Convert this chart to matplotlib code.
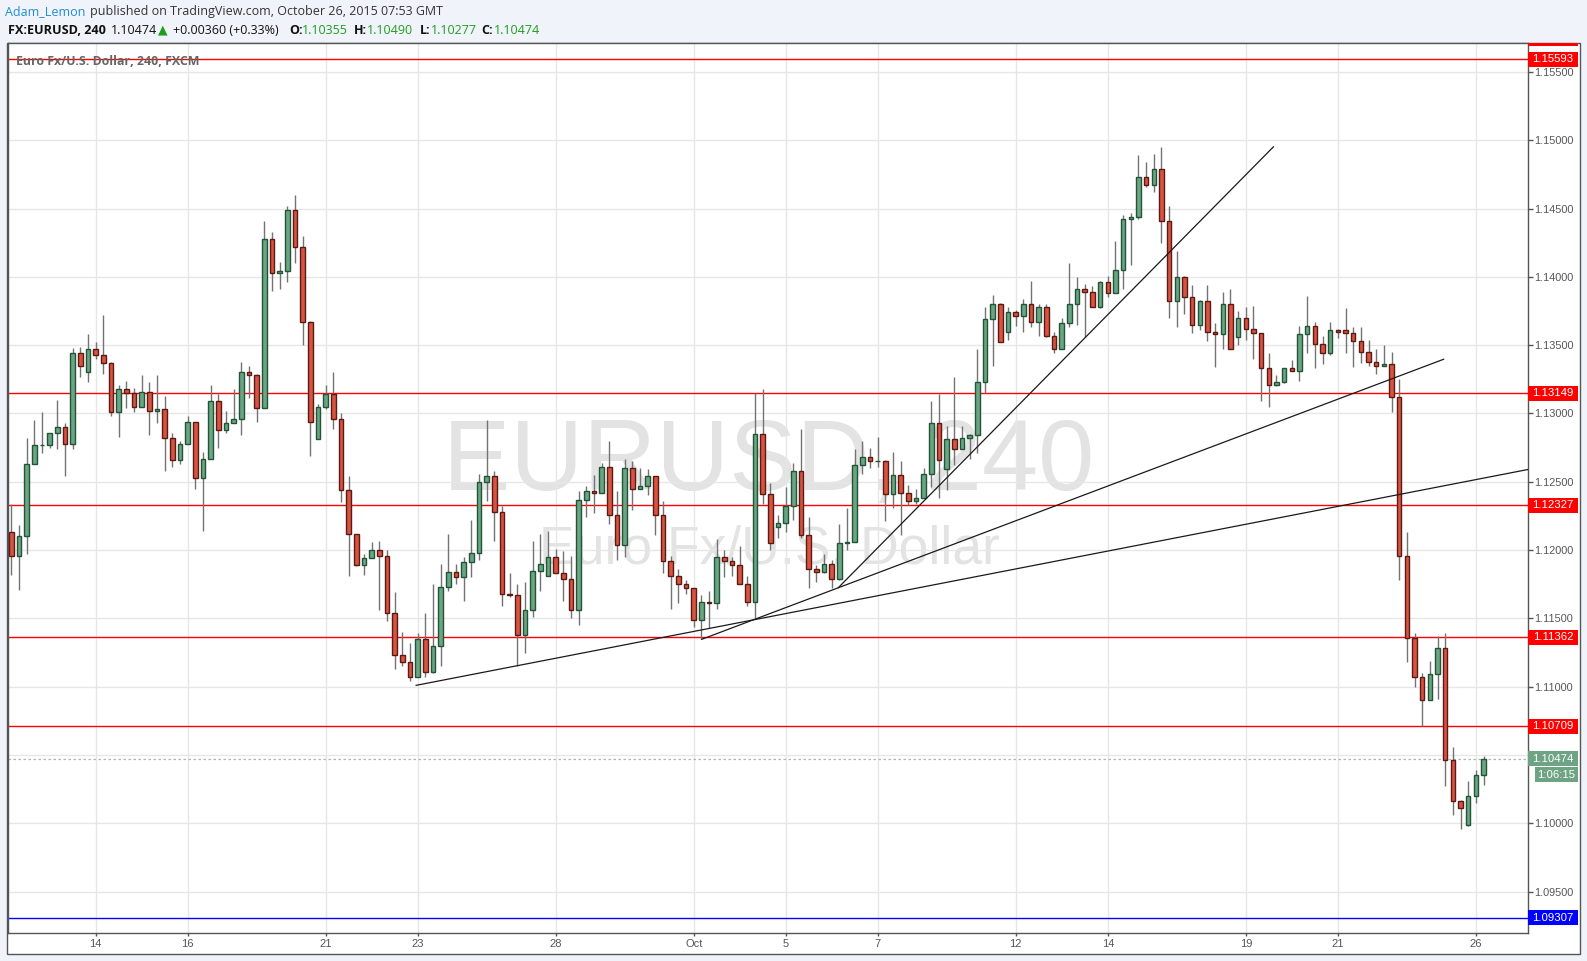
import numpy as np
import matplotlib
matplotlib.use("Agg")
import matplotlib.pyplot as plt
import matplotlib.transforms as mtrans
from matplotlib.patches import Rectangle

plt.rcParams['font.family'] = ['Liberation Sans', 'DejaVu Sans']

# EURUSD 240 candles (index 0 = first candle on the left)
opens = [1.1213, 1.1196, 1.1210, 1.1263, 1.1277, 1.1277, 1.1286, 1.1290, 1.1278, 1.1344,
         1.1330, 1.1347, 1.1343, 1.1337, 1.1301, 1.1318, 1.1315, 1.1305, 1.1316, 1.1302,
         1.1303, 1.1282, 1.1266, 1.1278, 1.1294, 1.1253, 1.1267, 1.1309, 1.1288, 1.1293,
         1.1296, 1.1330, 1.1328, 1.1304, 1.1428, 1.1403, 1.1404, 1.1449, 1.1422, 1.1367,
         1.1281, 1.1305, 1.1314, 1.1296, 1.1244, 1.1212, 1.1189, 1.1194, 1.1200, 1.1196,
         1.1154, 1.1123, 1.1118, 1.1107, 1.1135, 1.1111, 1.1130, 1.1173, 1.1184, 1.1180,
         1.1191, 1.1198, 1.1250, 1.1254, 1.1228, 1.1168, 1.1167, 1.1138, 1.1156, 1.1185,
         1.1181, 1.1195, 1.1183, 1.1179, 1.1156, 1.1237, 1.1243, 1.1242, 1.1261, 1.1226,
         1.1204, 1.1260, 1.1245, 1.1247, 1.1254, 1.1226, 1.1192, 1.1181, 1.1175, 1.1172,
         1.1149, 1.1162, 1.1161, 1.1195, 1.1192, 1.1189, 1.1175, 1.1162, 1.1285, 1.1241,
         1.1217, 1.1220, 1.1232, 1.1258, 1.1211, 1.1186, 1.1184, 1.1190, 1.1179, 1.1205,
         1.1206, 1.1262, 1.1268, 1.1265, 1.1265, 1.1241, 1.1255, 1.1242, 1.1236, 1.1238,
         1.1256, 1.1293, 1.1259, 1.1281, 1.1274, 1.1282, 1.1284, 1.1323, 1.1369, 1.1380,
         1.1360, 1.1374, 1.1371, 1.1380, 1.1367, 1.1378, 1.1357, 1.1347, 1.1366, 1.1380,
         1.1391, 1.1389, 1.1378, 1.1396, 1.1388, 1.1405, 1.1442, 1.1444, 1.1473, 1.1467,
         1.1479, 1.1441, 1.1382, 1.1400, 1.1385, 1.1365, 1.1382, 1.1360, 1.1358, 1.1380,
         1.1356, 1.1370, 1.1362, 1.1359, 1.1333, 1.1321, 1.1323, 1.1333, 1.1331, 1.1358,
         1.1364, 1.1351, 1.1344, 1.1361, 1.1361, 1.1359, 1.1353, 1.1345, 1.1338, 1.1335,
         1.1336, 1.1312, 1.1196, 1.1136, 1.1107, 1.1090, 1.1109, 1.1128, 1.1046, 1.1016,
         1.0999, 1.1020, 1.1035]
highs = [1.1234, 1.1218, 1.1282, 1.1295, 1.1301, 1.1286, 1.1310, 1.1293, 1.1348, 1.1349,
         1.1358, 1.1352, 1.1372, 1.1338, 1.1321, 1.1324, 1.1319, 1.1328, 1.1323, 1.1328,
         1.1313, 1.1286, 1.1280, 1.1298, 1.1294, 1.1272, 1.1321, 1.1314, 1.1302, 1.1318,
         1.1338, 1.1335, 1.1329, 1.1441, 1.1433, 1.1411, 1.1452, 1.1460, 1.1430, 1.1368,
         1.1307, 1.1321, 1.1330, 1.1300, 1.1254, 1.1212, 1.1197, 1.1206, 1.1207, 1.1200,
         1.1169, 1.1140, 1.1132, 1.1139, 1.1154, 1.1175, 1.1190, 1.1212, 1.1190, 1.1195,
         1.1222, 1.1256, 1.1295, 1.1258, 1.1232, 1.1183, 1.1175, 1.1177, 1.1207, 1.1212,
         1.1214, 1.1201, 1.1199, 1.1196, 1.1243, 1.1247, 1.1255, 1.1264, 1.1280, 1.1243,
         1.1267, 1.1265, 1.1260, 1.1259, 1.1254, 1.1236, 1.1196, 1.1186, 1.1178, 1.1172,
         1.1167, 1.1170, 1.1208, 1.1200, 1.1195, 1.1203, 1.1181, 1.1315, 1.1318, 1.1249,
         1.1226, 1.1246, 1.1264, 1.1289, 1.1224, 1.1189, 1.1197, 1.1193, 1.1219, 1.1231,
         1.1274, 1.1280, 1.1275, 1.1283, 1.1266, 1.1272, 1.1265, 1.1248, 1.1245, 1.1260,
         1.1309, 1.1314, 1.1291, 1.1327, 1.1291, 1.1285, 1.1347, 1.1378, 1.1387, 1.1381,
         1.1378, 1.1376, 1.1384, 1.1397, 1.1380, 1.1380, 1.1360, 1.1370, 1.1410, 1.1400,
         1.1395, 1.1393, 1.1397, 1.1401, 1.1426, 1.1445, 1.1447, 1.1489, 1.1484, 1.1490,
         1.1495, 1.1452, 1.1419, 1.1401, 1.1394, 1.1383, 1.1394, 1.1366, 1.1389, 1.1391,
         1.1375, 1.1378, 1.1379, 1.1359, 1.1344, 1.1328, 1.1333, 1.1339, 1.1364, 1.1386,
         1.1367, 1.1357, 1.1367, 1.1362, 1.1377, 1.1363, 1.1363, 1.1354, 1.1347, 1.1350,
         1.1345, 1.1325, 1.1213, 1.1139, 1.1110, 1.1119, 1.1137, 1.1139, 1.1056, 1.1017,
         1.1031, 1.1039, 1.1049]
lows = [1.1182, 1.1171, 1.1197, 1.1263, 1.1271, 1.1275, 1.1274, 1.1254, 1.1274, 1.1327,
        1.1323, 1.1340, 1.1329, 1.1298, 1.1283, 1.1304, 1.1301, 1.1305, 1.1284, 1.1293,
        1.1258, 1.1261, 1.1263, 1.1278, 1.1245, 1.1214, 1.1267, 1.1275, 1.1286, 1.1293,
        1.1284, 1.1311, 1.1294, 1.1304, 1.1390, 1.1391, 1.1396, 1.1410, 1.1350, 1.1269,
        1.1281, 1.1303, 1.1289, 1.1235, 1.1181, 1.1188, 1.1182, 1.1194, 1.1156, 1.1148,
        1.1113, 1.1115, 1.1104, 1.1107, 1.1107, 1.1110, 1.1115, 1.1170, 1.1175, 1.1163,
        1.1180, 1.1193, 1.1236, 1.1207, 1.1159, 1.1166, 1.1115, 1.1125, 1.1151, 1.1170,
        1.1181, 1.1183, 1.1163, 1.1150, 1.1145, 1.1224, 1.1227, 1.1242, 1.1219, 1.1193,
        1.1195, 1.1229, 1.1245, 1.1240, 1.1211, 1.1183, 1.1157, 1.1161, 1.1168, 1.1144,
        1.1135, 1.1143, 1.1157, 1.1180, 1.1181, 1.1175, 1.1159, 1.1150, 1.1234, 1.1200,
        1.1209, 1.1213, 1.1222, 1.1209, 1.1172, 1.1177, 1.1183, 1.1172, 1.1178, 1.1200,
        1.1206, 1.1256, 1.1260, 1.1261, 1.1221, 1.1231, 1.1211, 1.1233, 1.1234, 1.1238,
        1.1246, 1.1238, 1.1244, 1.1262, 1.1274, 1.1267, 1.1271, 1.1315, 1.1335, 1.1352,
        1.1354, 1.1364, 1.1360, 1.1363, 1.1357, 1.1356, 1.1344, 1.1347, 1.1363, 1.1365,
        1.1356, 1.1378, 1.1377, 1.1385, 1.1388, 1.1391, 1.1409, 1.1442, 1.1466, 1.1462,
        1.1425, 1.1370, 1.1363, 1.1373, 1.1359, 1.1361, 1.1353, 1.1334, 1.1347, 1.1347,
        1.1350, 1.1354, 1.1340, 1.1309, 1.1305, 1.1320, 1.1322, 1.1331, 1.1324, 1.1344,
        1.1333, 1.1336, 1.1343, 1.1355, 1.1344, 1.1334, 1.1337, 1.1335, 1.1329, 1.1335,
        1.1301, 1.1178, 1.1118, 1.1100, 1.1071, 1.1090, 1.1091, 1.1027, 1.1006, 1.0996,
        1.0998, 1.1015, 1.1028]
closes = [1.1196, 1.1210, 1.1263, 1.1277, 1.1277, 1.1286, 1.1290, 1.1278, 1.1344, 1.1335,
          1.1347, 1.1343, 1.1337, 1.1301, 1.1318, 1.1315, 1.1305, 1.1316, 1.1302, 1.1303,
          1.1282, 1.1266, 1.1278, 1.1294, 1.1253, 1.1267, 1.1309, 1.1288, 1.1293, 1.1296,
          1.1330, 1.1328, 1.1304, 1.1428, 1.1403, 1.1404, 1.1449, 1.1422, 1.1367, 1.1294,
          1.1305, 1.1314, 1.1296, 1.1244, 1.1212, 1.1189, 1.1194, 1.1200, 1.1196, 1.1154,
          1.1123, 1.1118, 1.1107, 1.1135, 1.1111, 1.1130, 1.1173, 1.1184, 1.1180, 1.1191,
          1.1198, 1.1250, 1.1254, 1.1228, 1.1168, 1.1167, 1.1138, 1.1156, 1.1185, 1.1190,
          1.1195, 1.1183, 1.1179, 1.1156, 1.1237, 1.1243, 1.1242, 1.1261, 1.1226, 1.1204,
          1.1260, 1.1245, 1.1247, 1.1254, 1.1226, 1.1192, 1.1181, 1.1175, 1.1172, 1.1149,
          1.1162, 1.1161, 1.1195, 1.1192, 1.1189, 1.1175, 1.1162, 1.1285, 1.1241, 1.1205,
          1.1220, 1.1232, 1.1258, 1.1211, 1.1186, 1.1184, 1.1190, 1.1179, 1.1205, 1.1206,
          1.1262, 1.1268, 1.1265, 1.1265, 1.1241, 1.1255, 1.1242, 1.1236, 1.1238, 1.1256,
          1.1293, 1.1266, 1.1281, 1.1274, 1.1282, 1.1284, 1.1323, 1.1369, 1.1380, 1.1352,
          1.1374, 1.1371, 1.1380, 1.1367, 1.1378, 1.1357, 1.1347, 1.1366, 1.1380, 1.1391,
          1.1389, 1.1378, 1.1396, 1.1388, 1.1405, 1.1442, 1.1444, 1.1473, 1.1467, 1.1479,
          1.1441, 1.1382, 1.1400, 1.1385, 1.1365, 1.1382, 1.1360, 1.1358, 1.1380, 1.1347,
          1.1370, 1.1362, 1.1359, 1.1333, 1.1321, 1.1323, 1.1333, 1.1331, 1.1358, 1.1364,
          1.1351, 1.1344, 1.1361, 1.1360, 1.1359, 1.1353, 1.1345, 1.1338, 1.1335, 1.1336,
          1.1312, 1.1196, 1.1136, 1.1107, 1.1090, 1.1109, 1.1128, 1.1046, 1.1016, 1.1011,
          1.1020, 1.1035, 1.1047]

tick_idx = [11, 23, 41, 53, 71, 89, 101, 113, 131, 143, 161, 173, 191]
tick_lbl = ['14', '16', '21', '23', '28', 'Oct', '5', '7', '12', '14', '19', '21', '26']

red_levels = [1.15593, 1.13149, 1.12327, 1.11362, 1.10709]
blue_level = 1.09307
last_price = 1.10474
countdown = '1:06:15'

# trend lines: (candle index, price) pairs
trend_lines = [((52.8, 1.1101), (197.8, 1.1259)),
               ((90.05, 1.11347), (186.8, 1.13397)),
               ((107.86, 1.11725), (164.6, 1.14952))]

W, H = 1587, 961
fig = plt.figure(figsize=(W / 100, H / 100), dpi=100, facecolor='#f0f3fa')


def fx(px):
    return px / W


def fy(py):
    return 1 - py / H


# white chart panel (plot + both axis strips)
fig.patches.append(Rectangle((fx(7), fy(954)), fx(1580) - fx(7), fy(43) - fy(954),
                             transform=fig.transFigure, fc='white', ec='#555555',
                             lw=1, zorder=-1))

ax = fig.add_axes([fx(8), fy(933), fx(1528) - fx(8), fy(43) - fy(933)])
ax.set_xlim(-0.43, 197.8)
ax.set_ylim(1.09197, 1.15712)

o = np.array(opens)
h = np.array(highs)
l = np.array(lows)
c = np.array(closes)
x = np.arange(len(o))
up = c >= o
body_lo = np.minimum(o, c)
body_h = np.maximum(np.abs(c - o), 0.00002)

ax.vlines(x, l, h, color='#737375', lw=1, zorder=3)
ax.bar(x[up], body_h[up], bottom=body_lo[up], width=0.6, color='#6ba583',
       edgecolor='#225437', lw=1, zorder=4)
ax.bar(x[~up], body_h[~up], bottom=body_lo[~up], width=0.6, color='#d75442',
       edgecolor='#5b1a13', lw=1, zorder=4)

for lv in red_levels:
    ax.axhline(lv, color='#ff0000', lw=1, zorder=2)
ax.axhline(blue_level, color='#0000ff', lw=1, zorder=2)
ax.axhline(last_price, color='#a9b8ae', lw=0.9, ls=(0, (2, 2)), zorder=2)

for (x0, y0), (x1, y1) in trend_lines:
    ax.plot([x0, x1], [y0, y1], color='#1a1a1a', lw=0.9, zorder=5)

# watermark
ax.text(0.5007, 0.4978, 'EURUSD, 240', transform=ax.transAxes, ha='center',
        va='baseline', fontsize=72.7, color='#e3e3e3', zorder=0.2)
ax.text(0.5007, 0.4157, 'Euro Fx/U.S. Dollar', transform=ax.transAxes, ha='center',
        va='baseline', fontsize=38.5, color='#e3e3e3', zorder=0.2)

# axes styling
ax.set_xticks(tick_idx)
ax.set_xticklabels(tick_lbl)
yt = np.arange(1.095, 1.1551, 0.005)
ax.set_yticks(yt)
ax.set_yticklabels([f'{v:.5f}' for v in yt])
ax.yaxis.tick_right()
ax.grid(color='#e6e6e6', lw=1)
ax.set_axisbelow(True)
ax.tick_params(axis='y', right=True, left=False, length=3.3, width=1, color='#555555',
               labelsize=7.8, labelcolor='#555555', pad=0.8)
ax.tick_params(axis='x', length=2.5, width=1, color='#555555', labelsize=8,
               labelcolor='#555555', pad=1.5)
for sp in ax.spines.values():
    sp.set_color('#555555')
    sp.set_linewidth(1)

# price axis labels
trans = mtrans.blended_transform_factory(ax.transAxes, ax.transData)
axw = 1520.0
box_h = 15 / 13660


def price_box(y, text, color, x0=1528, x1=1578):
    ax.add_patch(Rectangle(((x0 - 1528) / axw + 1, y - box_h / 2), (x1 - x0) / axw, box_h,
                           transform=trans, fc=color, ec='none', clip_on=False, zorder=6))
    ax.text(((x0 + x1) / 2 - 1528) / axw + 1, y, text, transform=trans, ha='center',
            va='center', color='white', fontsize=8.2, clip_on=False, zorder=7)


for lv in red_levels:
    price_box(lv, f'{lv:.5f}', '#ff0000')
price_box(blue_level, f'{blue_level:.5f}', '#0000ff')
price_box(last_price, f'{last_price:.5f}', '#6ea383')
price_box(last_price - 16 / 13660, countdown, '#6ea383', x0=1535)
fig.patches.append(Rectangle((fx(1528), fy(46)), fx(1578) - fx(1528), fy(43) - fy(46),
                             transform=fig.transFigure, fc='#ff0000', ec='none', zorder=3))

# header
hdr = ['Open Sans', 'DejaVu Sans']
fig.text(fx(4.6), fy(12), 'Adam_Lemon', color='#1f8dd6', fontsize=9.0, family=hdr, va='center')
fig.text(fx(90.3), fy(12), 'published on TradingView.com, October 26, 2015 07:53 GMT',
         color='#333333', fontsize=9.0, family=hdr, va='center')

green = '#1e9e1e'
parts = [(7.7, 'FX:EURUSD, 240', '#111111', 'bold', 9.1),
         (111, '1.10474', '#111111', 'normal', 9.0),
         (158, '\u25b2', '#1e9e1e', 'normal', 9.0),
         (173, '+0.00360 (+0.33%)', '#111111', 'normal', 9.0),
         (289, 'O:', '#111111', 'bold', 9.0),
         (302, '1.10355', green, 'normal', 9.0),
         (354, 'H:', '#111111', 'bold', 9.0),
         (367, '1.10490', green, 'normal', 9.0),
         (420, 'L:', '#111111', 'bold', 9.0),
         (430.5, '1.10277', green, 'normal', 9.0),
         (481.4, 'C:', '#111111', 'bold', 9.0),
         (493.7, '1.10474', green, 'normal', 9.0)]
for px, s, col, wt, fs in parts:
    fig.text(fx(px), fy(30), s, color=col, fontweight=wt, fontsize=fs, family=hdr, va='center')

fig.text(fx(16), fy(61.5), 'Euro Fx/U.S. Dollar, 240, FXCM', color='#666666',
         fontsize=8.9, fontweight='bold', family=hdr, va='center')

fig.savefig('out.png', dpi=100, facecolor=fig.get_facecolor())
